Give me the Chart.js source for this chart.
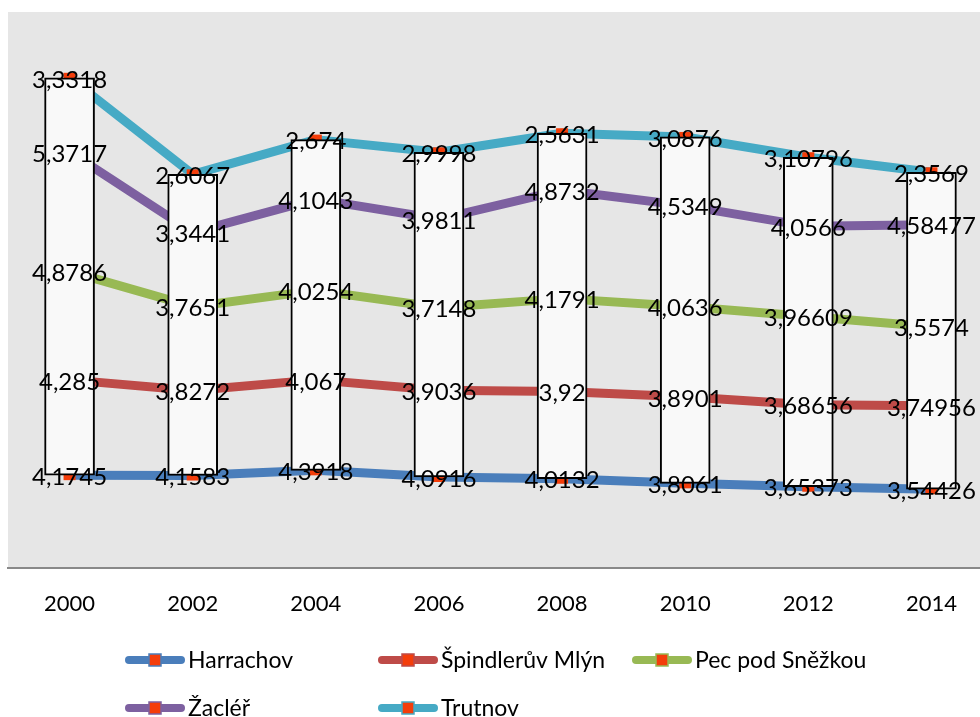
<!DOCTYPE html>
<html><head><meta charset="utf-8">
<script src="https://cdn.jsdelivr.net/npm/chart.js@4.4.1/dist/chart.umd.min.js"></script>
<style>html,body{margin:0;padding:0;background:#fff;overflow:hidden;width:980px;height:717px}canvas{display:block}</style>
</head><body><canvas id="c" width="1000" height="717"></canvas>
<script>
const categories = ['2000','2002','2004','2006','2008','2010','2012','2014'];
const harrachov = [4.1745, 4.1583, 4.3918, 4.0916, 4.0132, 3.8061, 3.65373, 3.54426];
const spindleruvMlyn = [4.285, 3.8272, 4.067, 3.9036, 3.92, 3.8901, 3.68656, 3.74956];
const pecPodSnezkou = [4.8786, 3.7651, 4.0254, 3.7148, 4.1791, 4.0636, 3.96609, 3.5574];
const zacler = [5.3717, 3.3441, 4.1043, 3.9811, 4.8732, 4.5349, 4.0566, 4.58477];
const trutnov = [3.3318, 2.6067, 2.674, 2.9998, 2.5631, 3.0876, 3.10796, 2.3569];
const seriesNames = ['Harrachov','Špindlerův Mlýn','Pec pod Sněžkou','Žacléř','Trutnov'];

const seriesValues = [harrachov, spindleruvMlyn, pecPodSnezkou, zacler, trutnov];
const seriesColors = ['#4a7ebb','#be4b48','#98b954','#7d60a0','#46aac5'];
const MARKER = '#f43d0a';
const FONT = 'Lato, "Open Sans", sans-serif';

// stacked (cumulative) values
const cumulative = [];
seriesValues.forEach((vals, si) => {
  cumulative.push(vals.map((v, i) => v + (si > 0 ? cumulative[si-1][i] : 0)));
});
const fmt = v => String(v).replace('.', ',');

const datasets = seriesValues.map((vals, si) => ({
  type: 'line',
  label: seriesNames[si],
  data: cumulative[si],
  borderColor: seriesColors[si],
  backgroundColor: seriesColors[si],
  borderWidth: 9,
  pointRadius: 0,
  tension: 0,
  fill: false,
  borderJoinStyle: 'round',
  order: 2
}));
datasets.push({
  type: 'bar',
  label: 'updown',
  data: categories.map((_, i) => [cumulative[0][i], cumulative[seriesValues.length-1][i]]),
  backgroundColor: '#f9f9f9',
  borderColor: '#000',
  borderWidth: 2,
  borderSkipped: false,
  barThickness: 50,
  order: 1
});

const overlay = {
  id: 'overlay',
  beforeDraw(chart) {
    const {ctx, chartArea: a} = chart;
    ctx.save();
    ctx.fillStyle = '#e6e6e6';
    ctx.fillRect(a.left, a.top, a.right - a.left, a.bottom - a.top);
    ctx.restore();
  },
  afterDatasetDraw(chart, args) {
    if (args.meta.type !== 'line') return;
    const ctx = chart.ctx;
    ctx.save();
    ctx.fillStyle = MARKER;
    args.meta.data.forEach(pt => {
      ctx.fillRect(pt.x - 6, pt.y - 5, 12, 10);
    });
    ctx.restore();
  },
  afterDatasetsDraw(chart) {
    const ctx = chart.ctx;
    ctx.save();
    ctx.font = '24px ' + FONT;
    ctx.textAlign = 'center';
    ctx.textBaseline = 'middle';
    ctx.fillStyle = '#000';
    seriesValues.forEach((vals, si) => {
      chart.getDatasetMeta(si).data.forEach((pt, i) => {
        ctx.fillText(fmt(vals[i]), pt.x, pt.y + 2);
      });
    });
    ctx.restore();
  },
  afterDraw(chart) {
    const ctx = chart.ctx;
    const cols = [125, 378, 632];
    const rows = [660, 708];
    ctx.save();
    ctx.font = '23px ' + FONT;
    ctx.textBaseline = 'middle';
    ctx.textAlign = 'left';
    seriesNames.forEach((name, si) => {
      const x = cols[si % 3], y = rows[Math.floor(si / 3)];
      ctx.strokeStyle = seriesColors[si];
      ctx.lineWidth = 8;
      ctx.lineCap = 'round';
      ctx.beginPath();
      ctx.moveTo(x + 4, y);
      ctx.lineTo(x + 56, y);
      ctx.stroke();
      ctx.fillStyle = MARKER;
      ctx.fillRect(x + 24, y - 6, 12, 12);
      ctx.lineWidth = 1.5;
      ctx.strokeRect(x + 24, y - 6, 12, 12);
      ctx.fillStyle = '#000';
      ctx.fillText(name, x + 63, y + 1);
    });
    ctx.restore();
  }
};

new Chart(document.getElementById('c'), {
  data: { labels: categories, datasets },
  options: {
    responsive: false,
    animation: false,
    layout: { padding: { left: 8, top: 12, right: 7, bottom: 89 } },
    plugins: { legend: { display: false }, tooltip: { enabled: false } },
    scales: {
      x: {
        type: 'category',
        offset: true,
        grid: { display: false, drawTicks: false },
        border: { display: true, color: '#898989', width: 2 },
        ticks: { color: '#000', font: { family: FONT, size: 22 }, padding: 23, maxRotation: 0, autoSkip: false },
        afterFit(s) { s.height = 60; }
      },
      y: { display: false, min: 0, max: 25 }
    }
  },
  plugins: [overlay]
});
</script>
</body></html>
